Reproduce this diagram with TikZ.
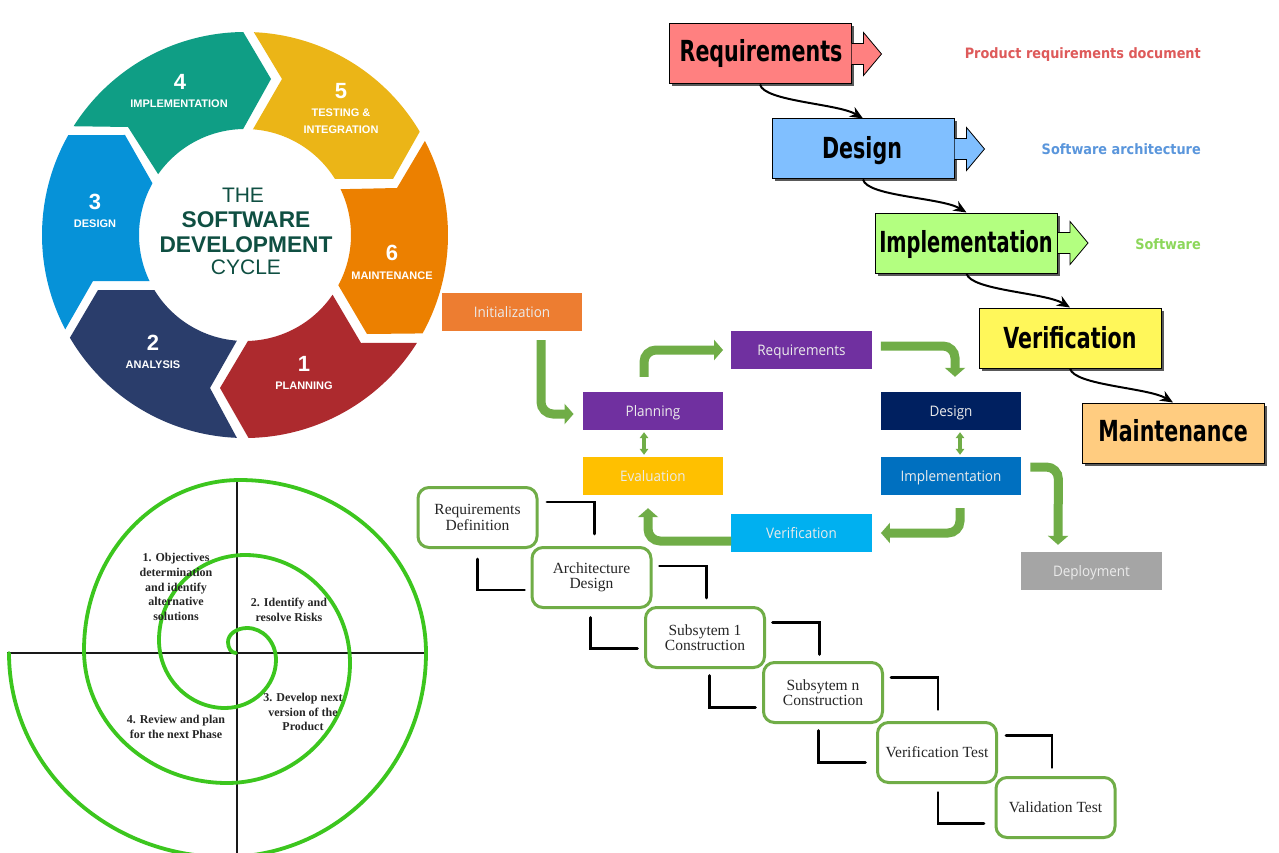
\documentclass[tikz,border=0pt]{standalone}
\usepackage{fontspec}
\usepackage{graphicx}
\usetikzlibrary{arrows.meta,shadows,calc}
\newfontfamily\fsans{Liberation Sans}
\newfontfamily\fserif{Liberation Serif}
\newfontfamily\fopen{Open Sans}[FakeStretch=0.93]
\newfontfamily\fcond{DejaVu Sans Condensed}
\newfontfamily\fnarrow{DejaVu Sans Condensed}[FakeStretch=0.79]
\definecolor{cgreen}{HTML}{70AD47}
\definecolor{sgreen}{HTML}{3CC61E}
\definecolor{wdark}{HTML}{0F4F42}
\tikzset{
  wnum/.style={text=white,inner sep=0,font=\fsans\bfseries\fontsize{22}{22}\selectfont},
  wlab/.style={text=white,inner sep=0,font=\fsans\bfseries\fontsize{11}{11}\selectfont},
  wbold/.style={text=wdark,inner sep=0,font=\fsans\bfseries\fontsize{22.7}{24}\selectfont},
  wreg/.style={text=wdark,inner sep=0,font=\fsans\fontsize{21}{22}\selectfont},
  axis/.style={line width=2.5pt,black!90},
  spir/.style={line width=3.8pt,sgreen},
  stxt/.style={inner sep=0,align=center,text=black!85,font=\fserif\bfseries\fontsize{12}{14.7}\selectfont},
  wbox/.style={draw=black,line width=1pt,minimum width=182pt,minimum height=60pt,inner sep=0,
    drop shadow={shadow xshift=2.5pt,shadow yshift=-2.5pt,opacity=.65,fill=black}},
  wtxt/.style={anchor=base,inner sep=0,font=\fnarrow\bfseries\fontsize{29}{29}\selectfont},
  barrow/.style={draw=black,line width=.8pt},
  wconn/.style={line width=2pt,black,-{Stealth[length=13pt,width=11pt]}},
  wout/.style={anchor=east,inner sep=0,font=\fcond\bfseries\fontsize{14.3}{15}\selectfont},
  cbox/.style={minimum width=140.5pt,minimum height=38pt,inner sep=0,text=white!92!black,
    text height=11pt,text depth=0pt,font=\fopen\fontsize{14.5}{15}\selectfont},
  garrow/.style={line width=9pt,cgreen,rounded corners=12pt,-{Triangle[length=9pt,width=20pt]}},
  gdouble/.style={line width=3.2pt,cgreen,{Triangle[length=6pt,width=8.5pt]}-{Triangle[length=6pt,width=8.5pt]}},
  sbox/.style={draw=cgreen,line width=3pt,rounded corners=11pt,fill=white,minimum width=119pt,minimum height=60pt,
    inner sep=0,align=center,text=black!85,font=\fserif\fontsize{15.5}{15.3}\selectfont},
  elbow/.style={line width=2.8pt,black,line cap=round},
}
\begin{document}
\begin{tikzpicture}[x=1pt,y=-1pt]
\clip (0,0) rectangle (1279,853);
\fill[white] (0,0) rectangle (1279,853);

% ---- wheel ----
\begin{scope}[shift={(245,235)},x=1pt,y=1pt]
\fill[fill={rgb,255:red,15;green,158;blue,133}] (147.6:203pt) arc[start angle=147.6,end angle=90.5,radius=203pt] -- (26,156) -- (91:106pt) arc[start angle=91,end angle=145,radius=106pt] -- (-117,108) -- cycle;
\fill[fill={rgb,255:red,235;green,181;blue,23}] (87.5:203pt) arc[start angle=87.5,end angle=30.6,radius=203pt] -- (148,56) -- (31.9:106pt) arc[start angle=31.9,end angle=85.7,radius=106pt] -- (37,156) -- cycle;
\fill[fill={rgb,255:red,236;green,128;blue,0}] (27.6:203pt) arc[start angle=27.6,end angle=-29,radius=203pt] -- (122,-99) -- (-28.3:106pt) arc[start angle=-28.3,end angle=25.6,radius=106pt] -- (152,47) -- cycle;
\fill[fill={rgb,255:red,173;green,42;blue,46}] (-32.1:203pt) arc[start angle=-32.1,end angle=-89,radius=203pt] -- (-25,-153) -- (-88.4:106pt) arc[start angle=-88.4,end angle=-34.3,radius=106pt] -- (116,-108) -- cycle;
\fill[fill={rgb,255:red,42;green,61;blue,107}] (267.7:203pt) arc[start angle=267.7,end angle=210.4,radius=203pt] -- (-147,-55) -- (211.4:106pt) arc[start angle=211.4,end angle=265.6,radius=106pt] -- (-35,-153) -- cycle;
\fill[fill={rgb,255:red,6;green,146;blue,216}] (207.7:203pt) arc[start angle=207.7,end angle=150.5,radius=203pt] -- (-120,100) -- (150.8:106pt) arc[start angle=150.8,end angle=205.8,radius=106pt] -- (-152,-46) -- cycle;
\end{scope}
\node[wnum] (n4) at (180,82) {4};
\node[wlab] (l4) at (179,103.5) {IMPLEMENTATION};
\node[wnum] (n5) at (341,91) {5};
\node[wlab] (l5a) at (341,112.5) {TESTING \&};
\node[wlab] (l5b) at (341,129.5) {INTEGRATION};
\node[wnum] (n6) at (392,253) {6};
\node[wlab] (l6) at (392,275.5) {MAINTENANCE};
\node[wnum] (n1) at (304,364) {1};
\node[wlab] (l1) at (304,386) {PLANNING};
\node[wnum] (n2) at (153,343) {2};
\node[wlab] (l2) at (153,364.5) {ANALYSIS};
\node[wnum] (n3) at (95,202) {3};
\node[wlab] (l3) at (95,224) {DESIGN};
\node[wreg] (c1) at (243,195) {THE};
\node[wbold] (c2) at (246,219.5) {SOFTWARE};
\node[wbold] (c3) at (246,244.5) {DEVELOPMENT};
\node[wreg] (c4) at (246,267) {CYCLE};

% ---- spiral ----
\draw[axis] (237,478) -- (237,853);
\draw[axis] (7,653) -- (428,653);
\draw[spir,line cap=round] (9,653)
  .. controls (9,766) and (106,857) .. (225,857)
  .. controls (336,857) and (426,766) .. (426,653)
  .. controls (426,557) and (343,480) .. (240,480)
  .. controls (154,480) and (84,556) .. (84,650)
  .. controls (84,723) and (148,783) .. (227,783)
  .. controls (295,783) and (350,729) .. (350,663)
  .. controls (350,603) and (303,555) .. (245,555)
  .. controls (198,555) and (159,593) .. (159,640)
  .. controls (159,678) and (189,708) .. (225,708)
  .. controls (253,708) and (276,686) .. (276,660)
  .. controls (276,642) and (263,628) .. (247,628)
  .. controls (237,628) and (228,634) .. (228,642)
  .. controls (228,648) and (231,653) .. (236,653);
\node[stxt] (s1) at (176,587) {1. Objectives\\determination\\and identify\\alternative\\solutions};
\node[stxt] (s2) at (289,610) {2. Identify and\\resolve Risks};
\node[stxt] (s3) at (303,712) {3. Develop next\\version of the\\Product};
\node[stxt] (s4) at (176,727) {4. Review and plan\\for the next Phase};

% ---- waterfall ----
\node[wbox,fill={rgb,255:red,255;green,128;blue,128}] (wr) at (760,54) {};
\node[wbox,fill={rgb,255:red,128;green,191;blue,255}] (wd) at (863,149) {};
\node[wbox,fill={rgb,255:red,179;green,255;blue,128}] (wi) at (966.5,243) {};
\node[wbox,fill={rgb,255:red,255;green,247;blue,90}] (wv) at (1070,338) {};
\node[wbox,fill={rgb,255:red,255;green,204;blue,128}] (wm) at (1173,433) {};
\node[wtxt] (twr) at (761,62) {Requirements};
\node[wtxt] (twd) at (862,158.5) {Design};
\node[wtxt] (twi) at (966,252) {\scalebox{.94}[1]{Implementation}};
\node[wtxt] (twv) at (1070,348) {Verification};
\node[wtxt] (twm) at (1173,441) {Maintenance};
\foreach \b/\c in {wr/{rgb,255:red,255;green,128;blue,128},wd/{rgb,255:red,128;green,191;blue,255},wi/{rgb,255:red,179;green,255;blue,128}}{
  \draw[barrow,fill=\c] ([shift={(0,-10.5)}]\b.east) -- ++(12,0) -- ++(0,-11) -- ++(18,21.5) -- ++(-18,21.5) -- ++(0,-11) -- ++(-12,0);
}
\draw[wconn] (wr.south) .. controls +(4,17) and +(-25,-15) .. (wd.north);
\draw[wconn] (wd.south) .. controls +(4,17) and +(-25,-15) .. (wi.north);
\draw[wconn] (wi.south) .. controls +(4,17) and +(-25,-15) .. (wv.north);
\draw[wconn] (wv.south) .. controls +(4,17) and +(-25,-15) .. (wm.north);
\node[wout,text={rgb,255:red,222;green,90;blue,90}] (o1) at (1201,55) {Product requirements document};
\node[wout,text={rgb,255:red,90;green,150;blue,220}] (o2) at (1201,149) {Software architecture};
\node[wout,text={rgb,255:red,140;green,215;blue,90}] (o3) at (1201,244) {Software};

% ---- iterative cycle ----
\node[cbox,fill={rgb,255:red,237;green,125;blue,49}] (ci) at (512,312) {Initialization};
\node[cbox,fill={rgb,255:red,112;green,48;blue,160}] (cr) at (801.5,350) {Requirements};
\node[cbox,fill={rgb,255:red,112;green,48;blue,160}] (cp) at (653,411) {Planning};
\node[cbox,fill={rgb,255:red,0;green,32;blue,96}] (cd) at (951,411) {Design};
\node[cbox,fill={rgb,255:red,255;green,192;blue,0}] (ce) at (653,476) {Evaluation};
\node[cbox,fill={rgb,255:red,0;green,112;blue,192}] (cm) at (951,476) {Implementation};
\node[cbox,fill={rgb,255:red,0;green,176;blue,240}] (cv) at (801.5,533) {Verification};
\node[cbox,fill={rgb,255:red,165;green,165;blue,165}] (cy) at (1091.5,571) {Deployment};
\draw[garrow] ([shift={(29,9)}]ci.south) -- ([shift={(29,3)}]ci.south |- cp.west) -- ([shift={(-9,3)}]cp.west);
\draw[garrow] ([shift={(-9,-15)}]cp.north) -- ([shift={(-9,0)}]cp.north |- cr.west) -- ([shift={(-8,0)}]cr.west);
\draw[garrow] ([shift={(9,-4)}]cr.east) -- ([shift={(4,-4)}]cd.north |- cr.east) -- ([shift={(4,-15)}]cd.north);
\draw[gdouble] ([shift={(-9,2)}]cp.south) -- ([shift={(-9,-2)}]ce.north);
\draw[gdouble] ([shift={(9,2)}]cd.south) -- ([shift={(9,-2)}]cm.north);
\draw[garrow] ([shift={(9,13)}]cm.south) -- ([shift={(9,0)}]cm.south |- cv.east) -- ([shift={(9,0)}]cv.east);
\draw[garrow] ([shift={(0,8)}]cv.west) -- ([shift={(-5,8)}]ce.south |- cv.west) -- ([shift={(-5,13)}]ce.south);
\draw[garrow] ([shift={(9,-9)}]cm.east) -- ([shift={(37,-9)}]cm.east) -- ([shift={(-33.5,-7)}]cy.north);

% ---- staircase ----
\node[sbox] (r1) at (477.5,517.5) {Requirements\\Definition};
\node[sbox] (r2) at (591.5,577.5) {Architecture\\Design};
\node[sbox] (r3) at (705,637.5) {Subsytem 1\\Construction};
\node[sbox] (r4) at (823,692.5) {Subsytem n\\Construction};
\node[sbox] (r5) at (937,752.5) {Verification Test};
\node[sbox] (r6) at (1055.5,807.5) {Validation Test};
\draw[elbow] ([shift={(8.5,16)}]r1.north east) -| ([shift={(56,48)}]r1.north east);
\draw[elbow] ([shift={(61,10)}]r1.south west) |- ([shift={(108,41)}]r1.south west);
\draw[elbow] ([shift={(7,20)}]r2.north east) -| ([shift={(54,52)}]r2.north east);
\draw[elbow] ([shift={(60,8.5)}]r2.south west) |- ([shift={(107,39.5)}]r2.south west);
\draw[elbow] ([shift={(6.5,16.5)}]r3.north east) -| ([shift={(53.5,48.5)}]r3.north east);
\draw[elbow] ([shift={(65.5,6.5)}]r3.south west) |- ([shift={(111.5,38.5)}]r3.south west);
\draw[elbow] ([shift={(7,16.5)}]r4.north east) -| ([shift={(54,48.5)}]r4.north east);
\draw[elbow] ([shift={(56.5,6.5)}]r4.south west) |- ([shift={(103.5,38.5)}]r4.south west);
\draw[elbow] ([shift={(8,14.5)}]r5.north east) -| ([shift={(54,46.5)}]r5.north east);
\draw[elbow] ([shift={(62,8.5)}]r5.south west) |- ([shift={(108,39.5)}]r5.south west);
\end{tikzpicture}
\end{document}
